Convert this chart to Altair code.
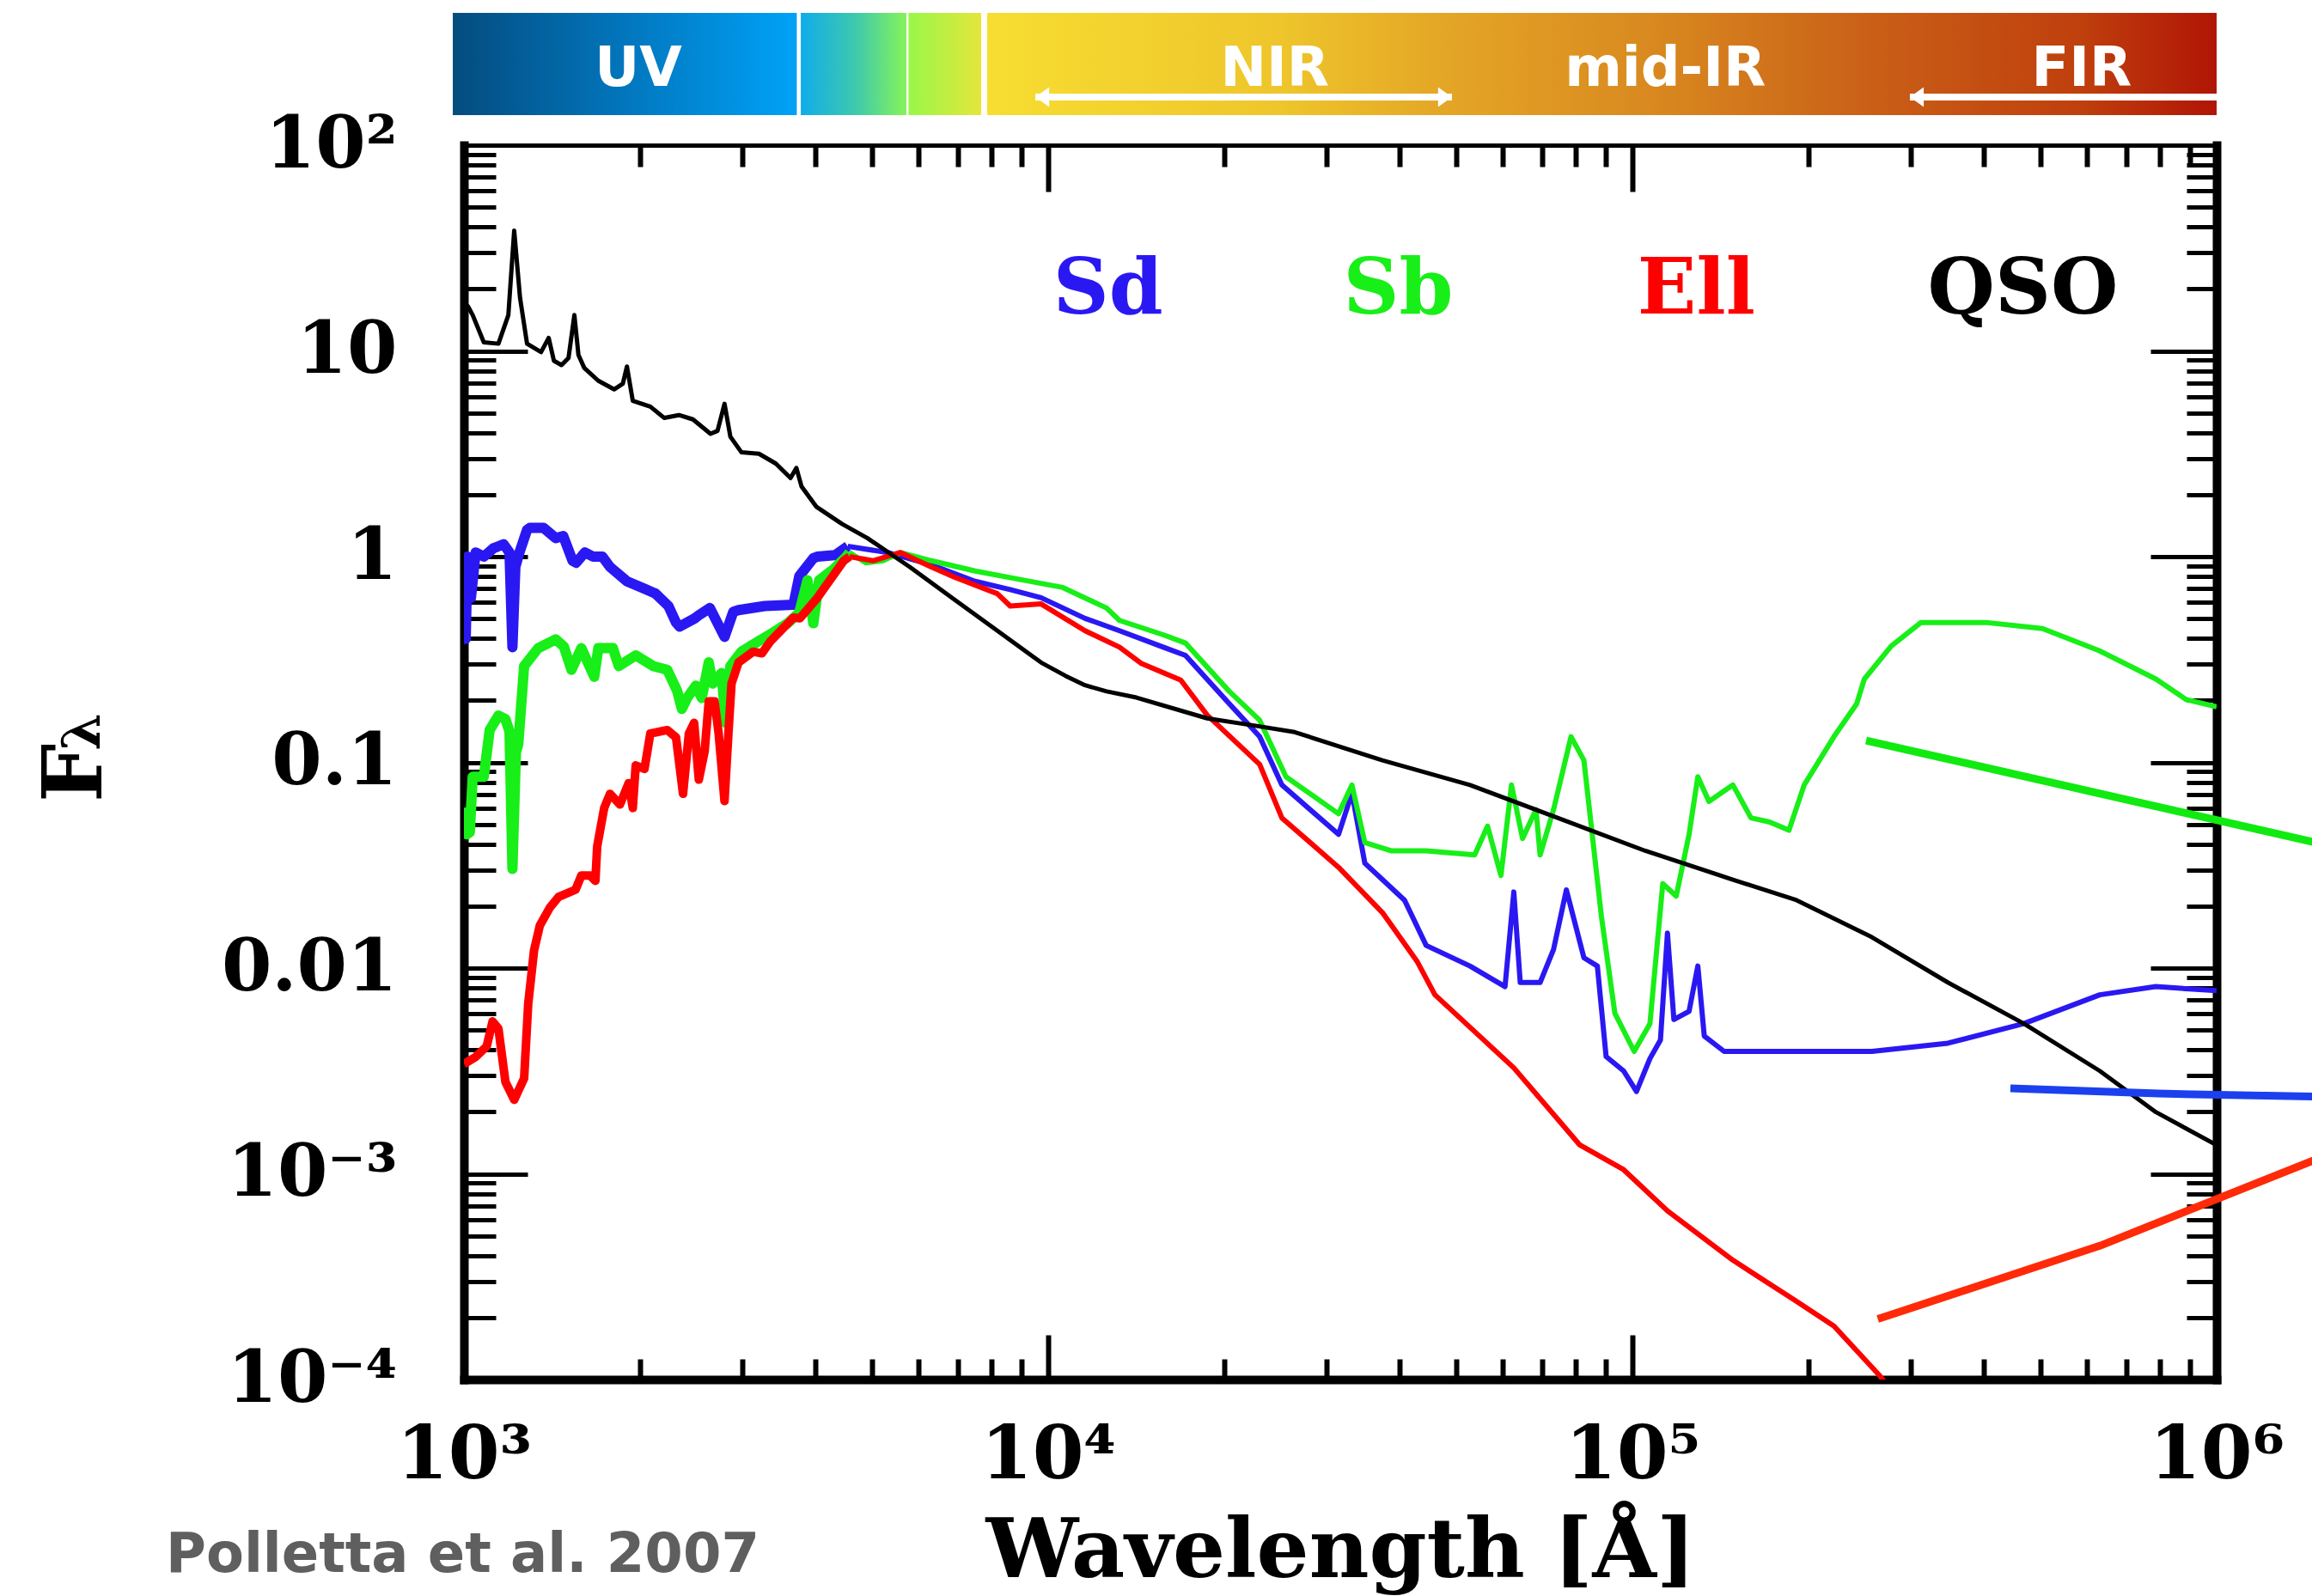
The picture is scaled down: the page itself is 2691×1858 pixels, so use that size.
import math

import altair as alt
import pandas as pd

# ---------------------------------------------------------------------------
# Template SEDs (Polletta et al. 2007), given as (log10 wavelength [Å], log10 F_lambda)
# ---------------------------------------------------------------------------
QSO = [
    (3.000, 1.200), (3.007, 1.216), (3.015, 1.174), (3.034, 1.042), (3.059, 1.035),
    (3.076, 1.174), (3.086, 1.585), (3.096, 1.258), (3.108, 1.035), (3.132, 0.994),
    (3.145, 1.063), (3.154, 0.952), (3.167, 0.931), (3.179, 0.966), (3.189, 1.174),
    (3.196, 0.980), (3.206, 0.917), (3.230, 0.855), (3.257, 0.813), (3.272, 0.841),
    (3.279, 0.924), (3.289, 0.757), (3.319, 0.729), (3.343, 0.674), (3.368, 0.688),
    (3.392, 0.667), (3.422, 0.597), (3.434, 0.611), (3.446, 0.743), (3.456, 0.583),
    (3.475, 0.507), (3.505, 0.500), (3.534, 0.452), (3.559, 0.382), (3.569, 0.431),
    (3.578, 0.340), (3.603, 0.243), (3.647, 0.159), (3.691, 0.089), (3.763, -0.050),
    (3.840, -0.210), (3.913, -0.360), (3.988, -0.515), (4.030, -0.580), (4.063, -0.625),
    (4.100, -0.655), (4.151, -0.685), (4.272, -0.786), (4.350, -0.820), (4.422, -0.853),
    (4.572, -0.990), (4.722, -1.110), (4.872, -1.270), (5.022, -1.430), (5.172, -1.570),
    (5.281, -1.670), (5.410, -1.850), (5.540, -2.070), (5.670, -2.270), (5.800, -2.500),
    (5.896, -2.700), (6.000, -2.860),
]

SD_UV = [
    (3.000, -0.10), (3.003, -0.40), (3.006, 0.00), (3.012, -0.20), (3.020, 0.02),
    (3.034, 0.00), (3.050, 0.04), (3.059, 0.05), (3.068, 0.06), (3.078, 0.02),
    (3.083, -0.44), (3.088, -0.05), (3.095, 0.02), (3.108, 0.13), (3.113, 0.14),
    (3.136, 0.14), (3.157, 0.09), (3.170, 0.10), (3.186, -0.02), (3.192, -0.03),
    (3.207, 0.02), (3.221, 0.00), (3.237, 0.00), (3.250, -0.05), (3.275, -0.11),
    (3.279, -0.12), (3.312, -0.16), (3.328, -0.18), (3.350, -0.24), (3.363, -0.32),
    (3.369, -0.34), (3.395, -0.30), (3.402, -0.285), (3.421, -0.25), (3.446, -0.39),
    (3.461, -0.268), (3.470, -0.26), (3.515, -0.24), (3.564, -0.234), (3.574, -0.095),
    (3.598, -0.008), (3.605, 0.00), (3.635, 0.007), (3.657, 0.05),
]
SD_IR = [
    (3.657, 0.05), (3.725, 0.02), (3.800, -0.04), (3.875, -0.12), (3.935, -0.16),
    (3.988, -0.20), (4.063, -0.30), (4.122, -0.36), (4.197, -0.44), (4.235, -0.48),
    (4.310, -0.715), (4.362, -0.875), (4.400, -1.11), (4.497, -1.35), (4.520, -1.15),
    (4.542, -1.49), (4.610, -1.67), (4.647, -1.89), (4.722, -1.99), (4.782, -2.09),
    (4.797, -1.63), (4.808, -2.07), (4.842, -2.07), (4.865, -1.91), (4.887, -1.62),
    (4.917, -1.95), (4.940, -1.99), (4.955, -2.43), (4.985, -2.50), (5.007, -2.60),
    (5.030, -2.44), (5.048, -2.35), (5.060, -1.83), (5.071, -2.25), (5.097, -2.21),
    (5.112, -1.99), (5.123, -2.33), (5.157, -2.405), (5.410, -2.405), (5.540, -2.365),
    (5.670, -2.27), (5.800, -2.13), (5.896, -2.09), (6.000, -2.11),
]

SB_UV = [
    (3.000, -1.22), (3.005, -1.35), (3.010, -1.34), (3.015, -1.07), (3.034, -1.07),
    (3.044, -0.843), (3.059, -0.773), (3.071, -0.79), (3.078, -0.85), (3.083, -1.518),
    (3.089, -0.95), (3.093, -0.912), (3.103, -0.532), (3.127, -0.445), (3.157, -0.402),
    (3.171, -0.437), (3.184, -0.55), (3.201, -0.445), (3.223, -0.584), (3.230, -0.445),
    (3.255, -0.445), (3.265, -0.532), (3.294, -0.48), (3.324, -0.532), (3.348, -0.55),
    (3.365, -0.653), (3.373, -0.74), (3.382, -0.687), (3.397, -0.627), (3.407, -0.687),
    (3.419, -0.514), (3.426, -0.617), (3.441, -0.566), (3.448, -0.808), (3.456, -0.532),
    (3.475, -0.462), (3.505, -0.41), (3.525, -0.376), (3.554, -0.324), (3.574, -0.272),
    (3.588, -0.115), (3.598, -0.324), (3.608, -0.115), (3.632, -0.063), (3.652, -0.008),
    (3.660, 0.02),
]
SB_IR = [
    (3.660, 0.02), (3.688, -0.03), (3.717, -0.02), (3.747, 0.02), (3.800, -0.02),
    (3.875, -0.07), (3.950, -0.11), (4.025, -0.15), (4.100, -0.25), (4.122, -0.31),
    (4.197, -0.38), (4.235, -0.42), (4.310, -0.655), (4.362, -0.795), (4.407, -1.07),
    (4.497, -1.25), (4.520, -1.11), (4.542, -1.39), (4.587, -1.43), (4.647, -1.43),
    (4.730, -1.45), (4.752, -1.31), (4.775, -1.55), (4.793, -1.11), (4.812, -1.37),
    (4.835, -1.23), (4.842, -1.45), (4.865, -1.23), (4.895, -0.875), (4.917, -0.99),
    (4.947, -1.75), (4.970, -2.22), (5.003, -2.405), (5.030, -2.27), (5.052, -1.59),
    (5.075, -1.65), (5.097, -1.35), (5.112, -1.07), (5.131, -1.19), (5.172, -1.11),
    (5.203, -1.27), (5.235, -1.29), (5.268, -1.33), (5.294, -1.11), (5.345, -0.875),
    (5.384, -0.715), (5.397, -0.595), (5.443, -0.435), (5.494, -0.32), (5.605, -0.32),
    (5.702, -0.35), (5.799, -0.457), (5.896, -0.595), (5.948, -0.695), (6.000, -0.73),
]

ELL_UV = [
    (3.000, -2.466), (3.020, -2.432), (3.039, -2.38), (3.049, -2.259), (3.059, -2.294),
    (3.071, -2.553), (3.086, -2.64), (3.103, -2.536), (3.110, -2.173), (3.120, -1.914),
    (3.130, -1.792), (3.147, -1.706), (3.162, -1.654), (3.191, -1.619), (3.201, -1.55),
    (3.216, -1.55), (3.225, -1.576), (3.228, -1.41), (3.240, -1.222), (3.250, -1.153),
    (3.267, -1.205), (3.282, -1.101), (3.289, -1.222), (3.294, -1.015), (3.309, -1.032),
    (3.319, -0.86), (3.348, -0.843), (3.363, -0.878), (3.375, -1.153), (3.385, -0.86),
    (3.394, -0.808), (3.402, -1.084), (3.412, -0.946), (3.419, -0.704), (3.429, -0.704),
    (3.436, -0.86), (3.446, -1.188), (3.453, -0.843), (3.458, -0.617), (3.470, -0.514),
    (3.495, -0.462), (3.510, -0.47), (3.525, -0.41), (3.564, -0.296), (3.575, -0.30),
    (3.605, -0.20), (3.650, -0.02), (3.660, 0.00),
]
ELL_IR = [
    (3.660, 0.00), (3.700, -0.02), (3.747, 0.02), (3.800, -0.05), (3.840, -0.10),
    (3.913, -0.18), (3.935, -0.24), (3.988, -0.23), (4.063, -0.36), (4.122, -0.44),
    (4.160, -0.52), (4.227, -0.60), (4.272, -0.77), (4.362, -1.01), (4.400, -1.27),
    (4.497, -1.51), (4.572, -1.73), (4.632, -1.97), (4.662, -2.13), (4.797, -2.485),
    (4.910, -2.86), (4.985, -2.98), (5.060, -3.18), (5.172, -3.42), (5.281, -3.62),
    (5.345, -3.74), (5.423, -3.98), (5.450, -4.08),
]

# far-IR power-law extrapolations, running past the right frame
SB_EXT = [(5.400, -0.894), (6.170, -1.390)]
SD_EXT = [(5.647, -2.585), (5.900, -2.610), (6.170, -2.625)]
ELL_EXT = [(5.420, -3.706), (5.800, -3.350), (6.170, -2.930)]

# spectral-band strip along the top (wavelength edges in Å)
BAND_LO = [957, 3772, 5768, 7864]
BAND_HI = [3713, 5720, 7681, 1.0e6]
BAND_NAMES = ["UV", "NIR", "mid-IR", "FIR"]
BAND_NAME_LAM = [1989, 24430, 113800, 587500]
NIR_ARROW = [9506, 49100]
FIR_ARROW = [298500, 1.0e6]

LEGEND_NAMES = ["Sd", "Sb", "Ell", "QSO"]
LEGEND_LAM = [1.02e4, 3.2e4, 1.02e5, 3.2e5]
LEGEND_COLORS = ["#2a18f2", "#18ee18", "#ff0000", "#000000"]

X_DECADES = [1e3, 1e4, 1e5, 1e6]
X_LABELS = ["10³", "10⁴", "10⁵", "10⁶"]
Y_DECADES = [1e-4, 1e-3, 1e-2, 1e-1, 1e0, 1e1, 1e2]
Y_LABELS = ["10⁻⁴", "10⁻³", "0.01", "0.1", "1", "10", "10²"]
CREDIT = "Polletta et al. 2007"

# ---------------------------------------------------------------------------
W, H = 2040, 1437
SERIF = "DejaVu Serif"
SANS = "DejaVu Sans"

xs = alt.Scale(type="log", domain=[1e3, 1e6], nice=False)
ys = alt.Scale(type="log", domain=[1e-4, 1e2], nice=False)


def frame(pairs):
    return pd.DataFrame({
        "lam": [10 ** a for a, _ in pairs],
        "flux": [10 ** b for _, b in pairs],
        "i": list(range(len(pairs))),
    })


def all_ticks(decades):
    out = []
    for d in decades[:-1]:
        out += [k * d for k in range(1, 10)]
    return out + [decades[-1]]


def label_expr(decades, labels):
    expo = "round(log(datum.value)/LN10)"
    s = ""
    for d, l in zip(decades, labels):
        s += f"{expo} == {round(math.log10(d))} ? '{l}' : "
    return s + "''"


MAJOR = "abs(log(datum.value)/LN10 - round(log(datum.value)/LN10)) < 0.001"


def tsize(major, minor):
    return {"condition": {"test": MAJOR, "value": major}, "value": minor}


X_ALL = all_ticks(X_DECADES)
Y_ALL = all_ticks(Y_DECADES)

# axes carrying the labels plus the bottom and left frame edges
x_label_axis = alt.Axis(
    orient="bottom", values=X_DECADES, labelExpr=label_expr(X_DECADES, X_LABELS),
    ticks=False, tickSize=0, domain=True, domainWidth=10, domainColor="black",
    domainCap="square", labelFont=SERIF, labelFontWeight="bold", labelFontSize=86,
    labelColor="black", labelPadding=46, labelFlush=False, labelOverlap=False,
    labelBound=False, labelLimit=0, grid=False, title="Wavelength [Å]", titleFont=SERIF,
    titleFontWeight="bold", titleFontSize=96, titleColor="black", titleX=W / 2,
    titleY=229, titleAlign="center", titleBaseline="alphabetic", titleLimit=0)
y_label_axis = alt.Axis(
    orient="left", values=Y_DECADES, labelExpr=label_expr(Y_DECADES, Y_LABELS),
    ticks=False, tickSize=0, domain=True, domainWidth=10, domainColor="black",
    domainCap="square", labelFont=SERIF, labelFontWeight="bold", labelFontSize=84,
    labelColor="black", labelPadding=78, labelFlush=False, labelOverlap=False,
    labelBound=False, labelLimit=0, grid=False, title=None)

# inward ticks on the bottom and left edges
x_tick_bottom = alt.Axis(
    orient="top", offset=-H, values=X_ALL, labels=False, domain=False, grid=False,
    tickSize=tsize(52, 24), tickWidth=6, tickColor="black", title=None)
y_tick_left = alt.Axis(
    orient="right", offset=-W, values=Y_ALL, labels=False, domain=False, grid=False,
    tickSize=tsize(74, 37), tickWidth=5, tickColor="black", title=None)

# inward ticks (and frame edges) on the top and right
x_tick_top = alt.Axis(
    orient="bottom", offset=-H, values=X_ALL, labels=False, domain=True, domainWidth=5,
    domainColor="black", domainCap="square", grid=False,
    tickSize=tsize(54, 25), tickWidth=6, tickColor="black", title=None)
y_tick_right = alt.Axis(
    orient="left", offset=-W, values=Y_ALL, labels=False, domain=True, domainWidth=10,
    domainColor="black", domainCap="square", grid=False,
    tickSize=tsize(77, 35), tickWidth=5, tickColor="black", title=None)


def curve(pairs, color, width, xaxis=None, yaxis=None, clip=True):
    return alt.Chart(frame(pairs)).mark_line(
        color=color, strokeWidth=width, clip=clip, strokeJoin="round", strokeCap="butt"
    ).encode(
        x=alt.X("lam:Q", scale=xs, axis=xaxis),
        y=alt.Y("flux:Q", scale=ys, axis=yaxis),
        order="i:Q",
    )


# ---- spectral strip -------------------------------------------------------
BAND_GRADIENTS = [
    [(0, "#044c7f"), (0.5, "#0276bd"), (1, "#00a2f7")],
    [(0, "#10acea"), (0.5, "#3cc8b0"), (1, "#86f35a")],
    [(0, "#99f748"), (1, "#e4e63c")],
    [(0, "#f7dd31"), (0.24, "#eec52b"), (0.36, "#e5a826"), (0.55, "#d8871f"),
     (0.72, "#c95f17"), (0.89, "#bf3f0d"), (1, "#b01505")],
]

strip_layers = []
for lo, hi, stops in zip(BAND_LO, BAND_HI, BAND_GRADIENTS):
    grad = alt.LinearGradient(
        gradient="linear", x1=0, x2=1, y1=0, y2=0,
        stops=[alt.GradientStop(offset=o, color=c) for o, c in stops])
    strip_layers.append(
        alt.Chart(pd.DataFrame({"lo": [lo], "hi": [hi]})).mark_rect(fill=grad, clip=False)
        .encode(x=alt.X("lo:Q", scale=xs, axis=None), x2="hi:Q",
                y=alt.value(-154), y2=alt.value(-35))
    )

band_text = alt.Chart(pd.DataFrame({"name": BAND_NAMES, "lam": BAND_NAME_LAM})).mark_text(
    font=SANS, fontWeight="bold", fontSize=64, color="white", align="center",
    baseline="alphabetic", clip=False
).encode(x=alt.X("lam:Q", scale=xs, axis=None), y=alt.value(-69), text="name:N")

arrow_df = pd.DataFrame({"lo": [NIR_ARROW[0], FIR_ARROW[0]], "hi": [NIR_ARROW[1], FIR_ARROW[1]]})
arrow_shafts = alt.Chart(arrow_df).mark_rule(color="white", strokeWidth=8, clip=False).encode(
    x=alt.X("lo:Q", scale=xs, axis=None), x2="hi:Q", y=alt.value(-56))
heads_left = alt.Chart(pd.DataFrame({"lam": [NIR_ARROW[0], FIR_ARROW[0]]})).mark_point(
    shape="M0,0 L1.4,-1 L1.4,1 Z", filled=True, color="white", opacity=1, size=530,
    clip=False).encode(x=alt.X("lam:Q", scale=xs, axis=None), y=alt.value(-56))
heads_right = alt.Chart(pd.DataFrame({"lam": [NIR_ARROW[1]]})).mark_point(
    shape="M0,0 L-1.4,-1 L-1.4,1 Z", filled=True, color="white", opacity=1, size=530,
    clip=False).encode(x=alt.X("lam:Q", scale=xs, axis=None), y=alt.value(-56))

# ---- spectra --------------------------------------------------------------
BLUE, GREEN, RED = "#2a18f2", "#18ee18", "#ff0000"

sd_uv = curve(SD_UV, BLUE, 12)
sd_ir = curve(SD_IR, BLUE, 6, xaxis=x_tick_bottom, yaxis=y_tick_left)
sb_uv = curve(SB_UV, GREEN, 12)
sb_ir = curve(SB_IR, GREEN, 6, xaxis=x_tick_top, yaxis=y_tick_right)
ell_uv = curve(ELL_UV, RED, 10)
ell_ir = curve(ELL_IR, RED, 6)
qso = curve(QSO, "black", 5, xaxis=x_label_axis, yaxis=y_label_axis)

sb_ext = curve(SB_EXT, "#10ea10", 9, clip=False)
sd_ext = curve(SD_EXT, "#1c40ee", 9, clip=False)
ell_ext = curve(ELL_EXT, "#ff2a08", 9, clip=False)

legend = alt.Chart(pd.DataFrame({"name": LEGEND_NAMES, "lam": LEGEND_LAM})).mark_text(
    font=SERIF, fontWeight="bold", fontSize=90, align="left", baseline="alphabetic"
).encode(
    x=alt.X("lam:Q", scale=xs, axis=None), y=alt.value(196), text="name:N",
    color=alt.Color("name:N", scale=alt.Scale(domain=LEGEND_NAMES, range=LEGEND_COLORS),
                    legend=None),
)

credit = alt.Chart(pd.DataFrame({"t": [CREDIT]})).mark_text(
    font=SANS, fontWeight="bold", fontSize=64, color="#5f5f5f", align="left",
    baseline="alphabetic", clip=False
).encode(x=alt.value(-347), y=alt.value(1661), text="t:N")

y_title_f = alt.Chart(pd.DataFrame({"t": ["F"]})).mark_text(
    font=SERIF, fontWeight="bold", fontSize=96, color="black", align="center",
    baseline="alphabetic", angle=270
).encode(x=alt.value(-422), y=alt.value(731), text="t:N")
y_title_l = alt.Chart(pd.DataFrame({"t": ["λ"]})).mark_text(
    font=SERIF, fontWeight="bold", fontSize=62, color="black", align="center",
    baseline="alphabetic", angle=270
).encode(x=alt.value(-424), y=alt.value(683), text="t:N")

chart = alt.layer(
    *strip_layers, arrow_shafts, heads_left, heads_right, band_text,
    sd_uv, sd_ir, sb_uv, sb_ir, ell_uv, ell_ir, qso,
    sb_ext, sd_ext, ell_ext,
    legend, credit, y_title_f, y_title_l,
).resolve_axis(
    x="independent", y="independent"
).properties(
    width=W, height=H,
    autosize=alt.AutoSizeParams(type="none"),
    padding={"left": 540, "top": 169, "right": 111, "bottom": 252},
    background="white",
).configure_view(stroke=None).configure_axis(grid=False)

chart.save("out.html", embed_options={"renderer": "svg", "actions": False})
